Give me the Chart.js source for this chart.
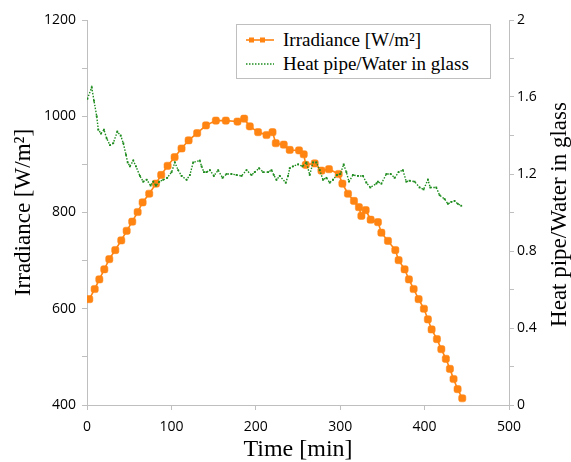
<!DOCTYPE html>
<html>
<head>
<meta charset="utf-8">
<script src="https://cdn.jsdelivr.net/npm/chart.js@4.4.1/dist/chart.umd.min.js"></script>
<style>
    body { margin: 0; background: #fff; }
    #wrap { position: relative; width: 571px; height: 462px; }
    #legend {
        position: absolute; left: 236px; top: 24px; width: 253px; height: 53px;
        border: 1px solid #bfbfbf; background: #fff;
        font-family: "Liberation Serif", "Times New Roman", serif; font-size: 19px; color: #000;
    }
    .item { position: absolute; left: 9px; height: 24px; display: flex; align-items: center; white-space: nowrap; }
    .item svg { margin-right: 9px; }
</style>
</head>
<body>
<div id="wrap">
    <canvas id="chart" width="571" height="462"></canvas>
    <div id="legend"></div>
</div>
<script>
// Irradiance (left axis)
const timeIrr = [2.7, 9.1, 14.6, 20.5, 26.4, 33.5, 40.6, 47.0, 53.6, 60.0, 65.9, 73.7, 81.7, 87.9, 95.5,
    103.8, 112.0, 120.4, 130.5, 141.0, 152.7, 164.5, 178.3, 186.2, 192.9, 202.7, 212.7, 219.8, 223.7,
    233.1, 240.2, 251.2, 256.8, 259.2, 269.8, 277.8, 286.7, 298.2, 302.6, 309.2, 316.3, 322.2, 325.1,
    330.2, 336.1, 344.7, 348.8, 356.6, 365.3, 369.2, 376.3, 381.4, 387.0, 392.9, 399.2, 403.9, 408.3,
    414.6, 419.8, 425.2, 430.0, 434.3, 439.1, 444.6];
const irradiance = [620, 641, 661, 682, 703, 722, 742, 762, 781, 801, 821, 839, 860, 878, 897,
    915, 933, 950, 965, 981, 991, 991, 989, 995, 979, 967, 961, 967, 944,
    941, 930, 929, 921, 899, 902, 887, 890, 880, 860, 839, 824, 811, 793,
    805, 785, 780, 758, 741, 722, 701, 682, 661, 641, 620, 600, 578, 557,
    537, 516, 496, 475, 454, 433, 414];

// Heat pipe / water in glass ratio (right axis)
const timeRatio = [0.4, 5.6, 8.3, 11.5, 13.4, 16.6, 20.1, 23.3, 27.2, 31.1, 35.9, 39.9, 43.0, 46.2, 48.2,
    50.9, 54.8, 58.0, 62.7, 66.6, 70.7, 75.4, 78.5, 81.7, 85.6, 90.3, 95.0, 100.2, 104.1, 108.0,
    112.1, 118.0, 121.9, 125.8, 133.7, 135.7, 138.5, 141.7, 145.6, 150.3, 155.4, 160.6, 165.3, 171.2,
    177.2, 183.1, 189.0, 194.9, 198.8, 203.9, 208.6, 214.6, 218.6, 221.3, 224.5, 228.4, 235.5, 238.2,
    240.2, 244.1, 250.1, 255.3, 260.0, 263.9, 267.8, 271.8, 275.7, 279.6, 283.7, 287.6, 291.5, 296.2,
    300.2, 304.1, 307.3, 310.4, 315.1, 321.1, 327.0, 331.0, 335.7, 342.8, 344.7, 348.8, 354.7, 359.8,
    364.5, 369.2, 374.3, 378.3, 382.2, 388.2, 394.1, 398.8, 403.9, 406.7, 413.8, 417.8, 423.7, 427.6,
    431.6, 435.5, 439.4, 443.4];
const ratio = [1.59, 1.65, 1.58, 1.50, 1.43, 1.41, 1.43, 1.385, 1.35, 1.36, 1.42, 1.40, 1.36, 1.30, 1.26,
    1.24, 1.27, 1.24, 1.19, 1.16, 1.17, 1.14, 1.16, 1.14, 1.16, 1.17, 1.18, 1.21, 1.26, 1.22,
    1.19, 1.17, 1.195, 1.26, 1.27, 1.24, 1.21, 1.21, 1.22, 1.19, 1.22, 1.18, 1.20, 1.20,
    1.195, 1.19, 1.22, 1.195, 1.21, 1.23, 1.21, 1.21, 1.22, 1.195, 1.17, 1.19, 1.155, 1.19,
    1.23, 1.24, 1.25, 1.24, 1.26, 1.195, 1.26, 1.26, 1.22, 1.17, 1.18, 1.155, 1.17, 1.195,
    1.20, 1.25, 1.21, 1.16, 1.195, 1.19, 1.19, 1.155, 1.13, 1.15, 1.16, 1.15, 1.20, 1.20,
    1.18, 1.21, 1.22, 1.16, 1.165, 1.16, 1.13, 1.12, 1.17, 1.13, 1.13, 1.09, 1.07, 1.045,
    1.055, 1.06, 1.045, 1.035];

const leftLabels = [400, 600, 800, 1000, 1200];
const rightLabels = [0, 0.4, 0.8, 1.2, 1.6, 2];
const irrLabel = 'Irradiance [W/m²]';
const ratioLabel = 'Heat pipe/Water in glass';

const ORANGE = '#FF8412';
const GREEN = '#1E8C1E';
const AXIS = '#bfbfbf';
const SERIF = '"Liberation Serif", "Times New Roman", serif';
const SANS = '"Open Sans", sans-serif';

// titre de l'axe droit (Chart.js le tourne dans l'autre sens)
const rightTitle = {
    id: 'rightTitle',
    afterDraw(chart) {
        const { ctx, chartArea } = chart;
        const s = chart.scales.y1;
        ctx.save();
        ctx.translate(s.right - 11, (chartArea.top + chartArea.bottom) / 2 + 2);
        ctx.rotate(-Math.PI / 2);
        ctx.font = 'normal 23px ' + SERIF;
        ctx.fillStyle = '#000';
        ctx.textAlign = 'center';
        ctx.textBaseline = 'middle';
        ctx.fillText(ratioLabel, 0, 0);
        ctx.restore();
    }
};

const tickGrid = { drawOnChartArea: false, drawTicks: true, tickLength: 5, color: AXIS };

new Chart(document.getElementById('chart'), {
    type: 'line',
    data: {
        datasets: [
            {
                label: irrLabel,
                data: timeIrr.map((t, i) => ({ x: t, y: irradiance[i] })),
                borderColor: ORANGE,
                backgroundColor: ORANGE,
                borderWidth: 1.6,
                pointStyle: 'rectRounded',
                pointRadius: 4.2,
                pointBorderWidth: 0.5,
                tension: 0,
                yAxisID: 'y',
                order: 1
            },
            {
                label: ratioLabel,
                data: timeRatio.map((t, i) => ({ x: t, y: ratio[i] })),
                borderColor: GREEN,
                backgroundColor: GREEN,
                borderWidth: 1.4,
                borderDash: [1.5, 1.5],
                pointStyle: 'rect',
                pointRadius: 1.3,
                pointBorderWidth: 0,
                tension: 0,
                yAxisID: 'y1',
                order: 0
            }
        ]
    },
    options: {
        responsive: false,
        animation: false,
        layout: { padding: { top: 20, left: 0, right: 0, bottom: 0 } },
        plugins: { legend: { display: false }, tooltip: { enabled: false } },
        scales: {
            x: {
                type: 'linear', min: 0, max: 500,
                ticks: { stepSize: 100, color: '#000', font: { family: SANS, size: 14 }, padding: 9, maxRotation: 0 },
                grid: tickGrid,
                border: { color: AXIS },
                title: { display: true, text: 'Time [min]', color: '#000', font: { family: SERIF, size: 24, weight: 'normal', lineHeight: 1 }, padding: 0 },
                afterFit: s => { s.height = 57; }
            },
            y: {
                position: 'left', min: 400, max: 1200,
                ticks: {
                    stepSize: 100, color: '#000', font: { family: SANS, size: 14 }, padding: 6,
                    callback: v => leftLabels.includes(v) ? String(v) : ''
                },
                grid: tickGrid,
                border: { color: AXIS },
                title: { display: true, text: irrLabel, color: '#000', font: { family: SERIF, size: 23, weight: 'normal', lineHeight: 1 }, padding: { top: 12.5, bottom: 0 } },
                afterFit: s => { s.width = 87; }
            },
            y1: {
                position: 'right', min: 0, max: 2,
                ticks: {
                    stepSize: 0.2, color: '#000', font: { family: SANS, size: 14 }, padding: 3,
                    callback: v => {
                        const r = Math.round(v * 10) / 10;
                        return rightLabels.includes(r) ? String(r) : '';
                    }
                },
                grid: tickGrid,
                border: { color: AXIS },
                afterFit: s => { s.width = 62; }
            }
        }
    },
    plugins: [rightTitle]
});

// légende HTML dans le cadre
const legend = document.getElementById('legend');
legend.innerHTML = `
    <div class="item" style="top:3px">
        <svg width="28" height="10"><line x1="0" y1="5" x2="28" y2="5" stroke="${ORANGE}" stroke-width="1.6"/>
        <rect x="3" y="2.5" width="5" height="5" fill="${ORANGE}"/><rect x="14" y="2.5" width="5" height="5" fill="${ORANGE}"/></svg>
        <span>${irrLabel}</span>
    </div>
    <div class="item" style="top:26.5px">
        <svg width="28" height="10"><line x1="0" y1="5" x2="28" y2="5" stroke="${GREEN}" stroke-width="1.4" stroke-dasharray="1.5 1.5"/></svg>
        <span>${ratioLabel}</span>
    </div>`;
</script>
</body>
</html>
